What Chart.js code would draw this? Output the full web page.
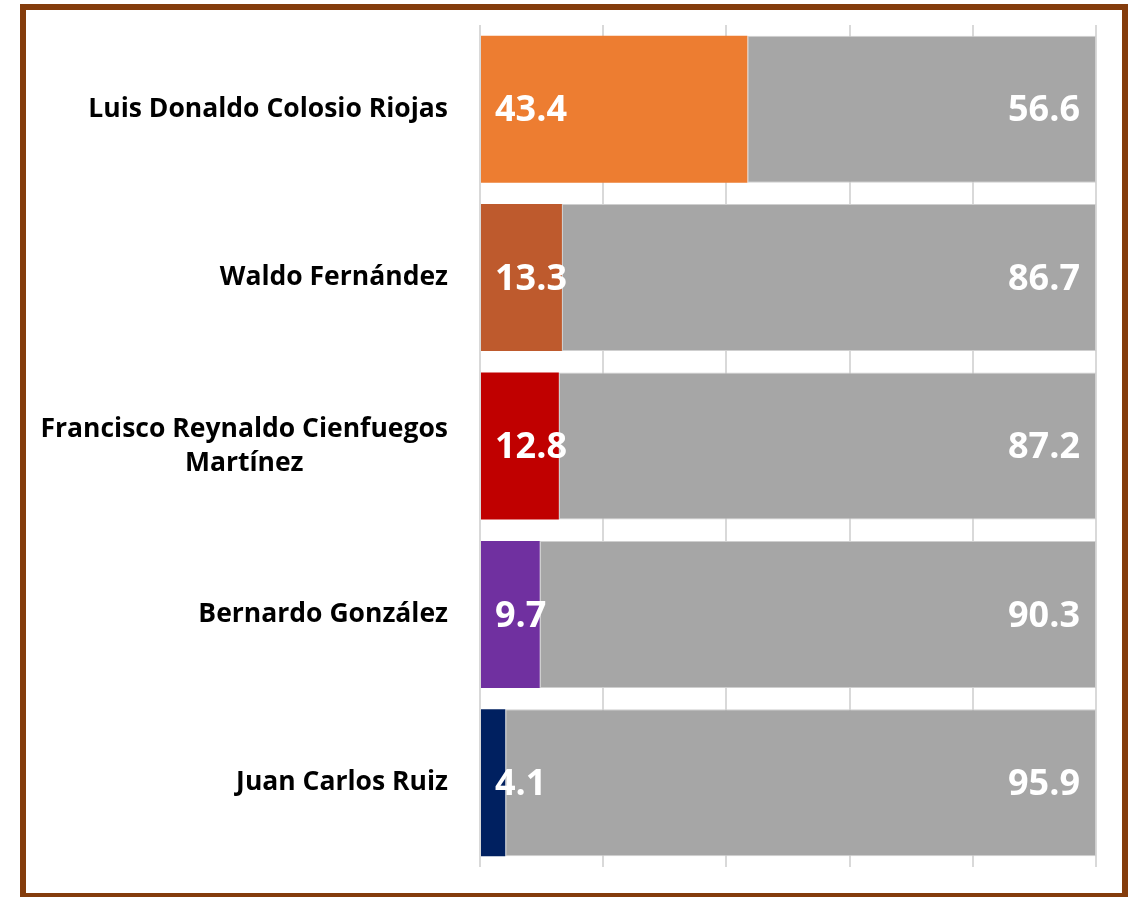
<!DOCTYPE html>
<html>
<head>
<meta charset="utf-8">
<script src="https://cdn.jsdelivr.net/npm/chart.js@4.4.1/dist/chart.umd.min.js"></script>
<style>
    html, body { margin: 0; padding: 0; background: #ffffff; }
    #wrap { position: relative; width: 1134px; height: 897px; overflow: hidden; }
    #frame {
        position: absolute; left: 20px; top: 4px; width: 1096px; height: 883px;
        border: 6px solid #843C0C; box-sizing: content-box;
    }
    #chart { position: absolute; left: 0; top: 0; }
</style>
</head>
<body>
<div id="wrap">
    <div id="frame"></div>
    <canvas id="chart" width="1134" height="897"></canvas>
</div>
<script>
let candidatos = [
    ["Luis Donaldo Colosio Riojas"],
    ["Waldo Fernández"],
    ["Francisco Reynaldo Cienfuegos", "Martínez"],
    ["Bernardo González"],
    ["Juan Carlos Ruiz"]
];
let porcentaje = [43.4, 13.3, 12.8, 9.7, 4.1];
let resto = [56.6, 86.7, 87.2, 90.3, 95.9];
let coloresBarra = ["#ED7D31", "#BE5A2D", "#C00000", "#7030A0", "#002060"];
let ticksX = [0, 20, 40, 60, 80, 100];

// dibuja nombres y valores encima de las barras
let etiquetasPlugin = {
    id: 'etiquetas',
    afterDatasetsDraw: function (chart) {
        let ctx = chart.ctx;
        let yScale = chart.scales.y;
        let xScale = chart.scales.x;
        ctx.save();

        ctx.fillStyle = '#000000';
        ctx.font = 'bold 26.5px "Open Sans"';
        ctx.textBaseline = 'middle';
        for (let i = 0; i < candidatos.length; i++) {
            let y = yScale.getPixelForValue(i);
            let lineas = candidatos[i];
            let ancho = 0;
            for (let l of lineas) {
                ancho = Math.max(ancho, ctx.measureText(l).width);
            }
            let derecha = 448;
            let alto = 34;
            let y0 = y - (lineas.length - 1) * alto / 2;
            ctx.textAlign = 'center';
            for (let j = 0; j < lineas.length; j++) {
                ctx.fillText(lineas[j], derecha - ancho / 2, y0 + j * alto);
            }
        }

        ctx.fillStyle = '#ffffff';
        ctx.font = 'bold 36px "Open Sans"';
        for (let i = 0; i < porcentaje.length; i++) {
            let y = yScale.getPixelForValue(i) + 2;
            ctx.textAlign = 'left';
            ctx.fillText(porcentaje[i].toFixed(1), xScale.getPixelForValue(0) + 15, y);
            ctx.textAlign = 'right';
            ctx.fillText(resto[i].toFixed(1), xScale.getPixelForValue(100) - 16, y);
        }
        ctx.restore();
    }
};

let grafica = new Chart(document.getElementById("chart"), {
    type: 'bar',
    data: {
        labels: candidatos,
        datasets: [
            {
                label: "Porcentaje",
                data: porcentaje,
                backgroundColor: coloresBarra,
                borderWidth: 0,
                barPercentage: 0.873,
                categoryPercentage: 1
            },
            {
                label: "Resto",
                data: resto,
                backgroundColor: '#A6A6A6',
                borderColor: '#CFCFCF',
                borderWidth: 1,
                borderSkipped: false,
                barPercentage: 0.873,
                categoryPercentage: 1
            }
        ]
    },
    options: {
        indexAxis: 'y',
        responsive: false,
        animation: false,
        layout: { padding: { left: 480, right: 38, top: 25, bottom: 30 } },
        plugins: {
            legend: { display: false },
            tooltip: { enabled: false }
        },
        scales: {
            x: {
                stacked: true,
                min: 0,
                max: 100,
                afterBuildTicks: function (scale) {
                    scale.ticks = ticksX.map(v => ({ value: v }));
                },
                afterFit: function (scale) { scale.height = 0; },
                ticks: { display: false },
                grid: { color: '#D9D9D9', lineWidth: 2, drawTicks: false },
                border: { display: false }
            },
            y: {
                stacked: true,
                display: false
            }
        }
    },
    plugins: [etiquetasPlugin]
});
</script>
</body>
</html>
